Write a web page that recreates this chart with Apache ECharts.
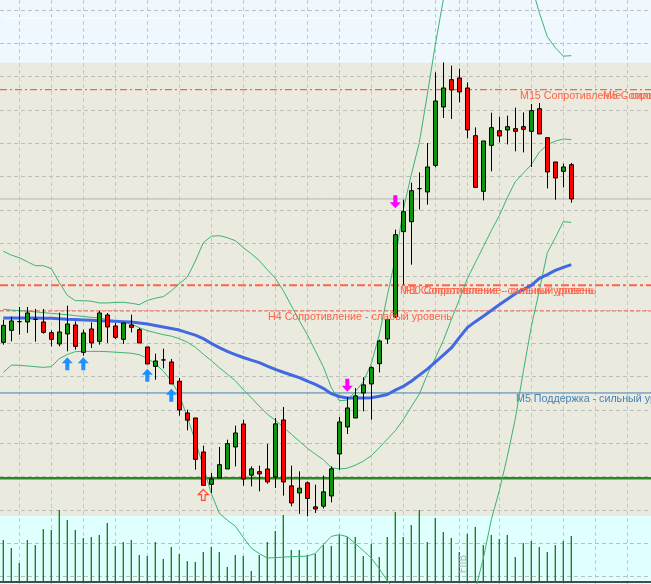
<!DOCTYPE html>
<html><head><meta charset="utf-8">
<script src="https://cdn.jsdelivr.net/npm/echarts@6/dist/echarts.min.js"></script>
<style>html,body{margin:0;padding:0;background:#e0ffff;overflow:hidden}#c{width:651px;height:584px}</style>
</head><body><div id="c"></div>
<script>
// ---- data (price in points) ----
const opens  = [234.3,246.3,255,254.7,257.3,254.7,244,232.7,242.7,251.7,224.3,247.7,235.3,261.7,250.7,237.3,251.7,247,229.7,210.3,216.7,214.7,195.5,163.7,158.7,124.7,92.3,98.7,107.7,129.7,152.7,101.5,105,107.7,99.7,156.7,90.8,83.7,93.8,69.8,70.5,80.7,122.7,149.7,158.7,183.7,192.7,213,237.7,259.7,345,355,388,384.7,411.3,469.7,497,498.7,488.7,441,385.3,431.3,446,446.7,448,450,445.3,468,439,414.7,405.3,412];
const closes = [251.3,255.7,255,263.7,257.3,244.3,237.3,244.7,252.7,230.3,243.7,233.7,263.7,249.7,239.3,253.7,249.3,233.7,212.7,215.7,216.7,192.7,166.7,156.5,117.3,91.3,97.7,112,133,143.7,97.7,107.8,102.8,94.8,152.8,94.7,73.7,88.5,78.2,67.7,84.8,107.8,154.7,168.7,180.8,191.8,209,235.7,257.3,342,365,386,388,409.7,475.7,488.7,486.7,484.7,446.7,389.3,435.7,449,440.7,450,445.3,447.3,466,442.7,404.7,398.7,409.7,377.7];
const lows   = [232,235.3,242,243.7,235,243,230.3,230.3,225.3,227,221,228.7,232,233.7,237.7,232.7,244.3,233.7,212.7,197,208.3,192.7,161,146.3,107,91.3,83.7,98.7,107.7,110.3,91,90.3,85.3,93,88.7,81,70.3,62.8,60.3,63.7,68.2,74.3,107,142.7,158.7,165.3,157,204.3,233,259,292,312,367,372,409.3,458.7,457.7,474.3,438.3,389.3,376.3,405.3,434.3,432.3,425.3,424.3,409.7,442.7,388.3,377,389.3,374];
const highs  = [257,260,269.7,269.7,267.7,267.7,246.3,264,271,255.3,247,254.3,265.7,263.7,253.7,254,262,248.7,229.7,223,228,217.7,198.8,167,158.7,131,103.7,129.7,137,151,157,110.3,111,132.7,158.7,169.7,111,105.3,95.3,92,101,110.3,159.7,179.5,188.5,199.5,210.3,237,261,347,377,394,404.3,433.7,504.3,514.3,511,508,494.3,449.3,435.7,464,460,461,469,464.3,472.7,473.7,439,414.7,413,413.7];
const volumes = [42,34,19,42,37,53,52,72,62,52,44,45,47,59,36,40,42,27,26,40,23,35,28,21,20,30,35,30,15,27,26,11,27,40,51,67,32,32,27,28,37,36,47,45,45,26,38,25,45,70,45,57,72,40,64,50,44,30,48,55,37,47,43,47,25,39,41,35,30,37,41,46];
const maValues = [258.7,258.7,258.6,258.6,258.6,258.5,258.4,258,257.5,257.1,256.7,256.3,255.9,255.6,255.3,255,254.6,253.6,252.6,251.2,249.7,248.2,246.6,244,241.5,238,233.3,229,225.3,222,219.2,216.5,214,210.6,207.3,204.4,201.7,199,195.6,192.3,188.3,183,180.2,178.7,178.7,178.7,179,180.5,182.2,186.5,190.3,195.4,201.5,207.5,214.5,221.5,228.7,239,249,255,260.5,266.2,272,277.5,283,287,291.3,298.3,302,306.3,309.3,312];
const bandUpper = [325.4,321.6,318.9,315,311,311,308,294,281.4,276,276,275.5,273.7,273.7,274.3,274.4,273.4,272,276.2,278.5,280,285.8,293,299.5,315.5,334,340.4,341,339,336,329,323,316,307,298.5,286,271,256,242,226,210,189,176,176.5,185,195,213,242,281,318,367,402,434,482,532,577,612,637,655,665,672,675,672,662,647,622,592,564,540,529,520.5,521];
const bandMiddle = [267.4,266.6,266,265.5,264.8,264,263.3,262.6,262,261,260.2,259.4,258.6,257.2,256,254.5,252.5,249,246,244,242,240.5,238,234.5,229.5,222.5,216,209,202.5,196,187,179,170.5,162.5,156.5,149.5,142.5,135.5,128.5,122.5,117,109,107.7,108.5,111.5,115.5,121,129,137.5,146,157,170,182.5,202,218.5,236,257,277,298,314,330,346,361,379,395,403.5,412,424.5,432,435.5,437.7,437];
const bandLower = [204.2,211.5,211.4,210.7,210,209.3,210,218,222.2,225,225.3,225.3,225.3,225,224.5,224,223.4,222,218.3,213,205.5,195.7,182,159.5,135.7,110.5,83,63.5,56.5,50.5,39.2,28.5,23,18.7,19,19.5,20,20.3,20.5,23.2,32,40.3,42,40,33,26,18.5,8,-4,-15,-28,-46,-61,-68,-71,-71,-63,-48,-30,-13,18,57,86,120,158,205,250,286,324,339,355,354.3];
const buyArrows = [[8,213],[10,213],[18,201.5],[21,181.3]];
const sellArrows = [[43,191.5],[49,375]];
const hollowArrows = [[25,81.7]];
const levelStrongHigh = 487;     // M15 / M5 resistance
const levelStrongMid = 291.3;    // H1 / M30 resistance
const levelWeak = 265.7;         // H4 weak resistance
const levelSupport = 183.7;      // M5 support
const levelGreen = 98.3;
const levelGray = 377.7;
const levelWhite = 558.7;
const levelTexts = [
  ['M15 Сопротивление - сильный уровень', levelStrongHigh],
  ['M5 Сопротивление - сильный уровень', levelStrongHigh],
  ['M30 Сопротивление - сильный уровень', levelStrongMid],
  ['H1 Сопротивление - сильный уровень', levelStrongMid],
  ['H4 Сопротивление - слабый уровень', levelWeak],
  ['M5 Поддержка - сильный уровень', levelSupport]
];
const sideNote = 'FIIB';

// ---- layout / style ----
const SLOTS = 82;
const categories = Array.from({length: SLOTS}, (_, i) => String(i + 1));
const PMAX = 1700 / 3, PSTEP = 100 / 3;
const labelX = [520, 603, 400, 404, 268, 516];
const labelColor = ['#ff6347','#ff6347','#ff6347','#ff6347','#ff6347','#4682b4'];

const chart = echarts.init(document.getElementById('c'));
const hideAxis = {axisLine:{show:false},axisTick:{show:false},axisLabel:{show:false},splitLine:{show:false}};

function levelSeries(v, style) {
  return {type:'line', xAxisIndex:2, yAxisIndex:2, data:[[0,v],[1,v]], symbol:'none', silent:true, z:1,
    lineStyle: style, animation:false};
}
const upPath = 'path://M5.5,0 L11,6 L7.5,6 L7.5,13 L3.5,13 L3.5,6 L0,6 Z';
const downPath = 'path://M3.5,0 L7.5,0 L7.5,7 L11,7 L5.5,13 L0,7 L3.5,7 Z';

const option = {
  animation:false,
  backgroundColor:'#e0ffff',
  grid:[
    {left:-0.7, width:656, top:10, height:PMAX, outerBoundsMode:'none'},
    {left:-0.7, width:656, top:482, height:100, outerBoundsMode:'none'},
    {left:0, right:0, top:10, height:PMAX, outerBoundsMode:'none'},
    {left:3.3, width:648, top:0, bottom:0, outerBoundsMode:'none'}
  ],
  xAxis:[
    Object.assign({gridIndex:0, type:'category', data:categories, boundaryGap:true}, hideAxis),
    {gridIndex:1, type:'category', data:categories, boundaryGap:true,
      axisLine:{show:true, lineStyle:{color:'#111', width:1.5}}, axisTick:{show:false}, axisLabel:{show:false}, splitLine:{show:false}},
    Object.assign({gridIndex:2, type:'value', min:0, max:1}, hideAxis),
    {gridIndex:3, type:'category', data:categories, boundaryGap:false,
      axisLine:{show:false}, axisTick:{show:false}, axisLabel:{show:false},
      splitLine:{show:true, interval:(i)=> (i % 4 === 2) || i === 57, lineStyle:{color:'#c8c8c8', type:[4,3], width:1}}}
  ],
  yAxis:[
    Object.assign({gridIndex:0, type:'value', min:0, max:PMAX}, hideAxis),
    Object.assign({gridIndex:1, type:'value', min:0, max:100}, hideAxis),
    {gridIndex:2, type:'value', min:0, max:PMAX, interval:PSTEP,
      axisLine:{show:false}, axisTick:{show:false}, axisLabel:{show:false},
      splitLine:{show:true, lineStyle:{color:'#bdbdbd', type:[4,3], width:1}}},
    Object.assign({gridIndex:3, type:'value', min:0, max:1}, hideAxis)
  ],
  series:[
    levelSeries(levelGray, {color:'#b4b4b4', width:1}),
    levelSeries(levelStrongHigh, {color:'#ff6347', width:1.3, type:[7,3,2,3]}),
    levelSeries(levelStrongMid, {color:'#ff6347', width:2, type:[8,3,3,3]}),
    levelSeries(levelWeak, {color:'#ff6347', width:1, type:[4,2]}),
    levelSeries(levelSupport, {color:'#4682b4', width:1}),
    levelSeries(levelGreen, {color:'#2a8a1e', width:2.5}),
    {type:'line', xAxisIndex:0, yAxisIndex:0, data:[[0,levelWhite],[71,levelWhite]], symbol:'none', silent:true, z:1,
      lineStyle:{color:'#ffffff', width:1}},
    {type:'line', name:'upper', xAxisIndex:0, yAxisIndex:0, data:bandUpper, symbol:'none', clip:false, z:2,
      lineStyle:{color:'#3cb371', width:1}},
    {type:'line', name:'middle', xAxisIndex:0, yAxisIndex:0, data:bandMiddle, symbol:'none', clip:false, z:2,
      lineStyle:{color:'#3cb371', width:1}},
    {type:'line', name:'lower', xAxisIndex:0, yAxisIndex:0, data:bandLower, symbol:'none', clip:false, z:2,
      lineStyle:{color:'#3cb371', width:1}},
    {type:'line', name:'ma', xAxisIndex:0, yAxisIndex:0, data:maValues, symbol:'none', clip:false, z:3,
      lineStyle:{color:'#4169e1', width:3}},
    {type:'bar', xAxisIndex:1, yAxisIndex:1, data:volumes, barWidth:1.3, z:2,
      itemStyle:{color:'#0d7f0d'}},
    {type:'candlestick', xAxisIndex:0, yAxisIndex:0, barWidth:4, clip:false, z:4,
      data: opens.map((o,i)=>[o, closes[i], lows[i], highs[i]]),
      itemStyle:{color:'#109410', color0:'#ff0000', borderColor:'#000', borderColor0:'#000', borderWidth:1}},
    {type:'scatter', xAxisIndex:0, yAxisIndex:0, data:buyArrows, symbol:upPath, symbolSize:[11,13], z:5,
      itemStyle:{color:'#1e90ff', opacity:1}},
    {type:'scatter', xAxisIndex:0, yAxisIndex:0, data:sellArrows, symbol:downPath, symbolSize:[11,13], z:5,
      itemStyle:{color:'#ff00ff', opacity:1}},
    {type:'scatter', xAxisIndex:0, yAxisIndex:0, data:hollowArrows, symbol:upPath, symbolSize:[10,11], z:5,
      itemStyle:{color:'rgba(0,0,0,0)', borderColor:'#ff4b2b', borderWidth:1.2, opacity:1}}
  ],
  graphic:{elements:[
    {type:'rect', id:'bgTop', z:-100, silent:true, shape:{x:0,y:0,width:651,height:62.7}, style:{fill:'#f0f8ff'}},
    {type:'rect', id:'bgMain', z:-100, silent:true, shape:{x:0,y:62.7,width:651,height:453.3}, style:{fill:'#ebeadf'}},
    {type:'text', id:'note', z:40, silent:true, x:463, y:564, rotation:Math.PI/2,
      style:{text:sideNote, fill:'#b8b8b8', font:'10px "DejaVu Sans", sans-serif', align:'center', verticalAlign:'middle'}}
  ]}
};
chart.setOption(option);

const texts = levelTexts.map((t, i) => {
  const y = chart.convertToPixel({yAxisIndex:2}, t[1]);
  return {type:'text', id:'lbl'+i, z:50, silent:true, x:labelX[i], y:y + 6,
    style:{text:t[0], fill:labelColor[i], font:'10.7px "Liberation Sans", Arial, sans-serif', align:'left', verticalAlign:'middle'}};
});
chart.setOption({graphic:{elements:texts}});
</script></body></html>
